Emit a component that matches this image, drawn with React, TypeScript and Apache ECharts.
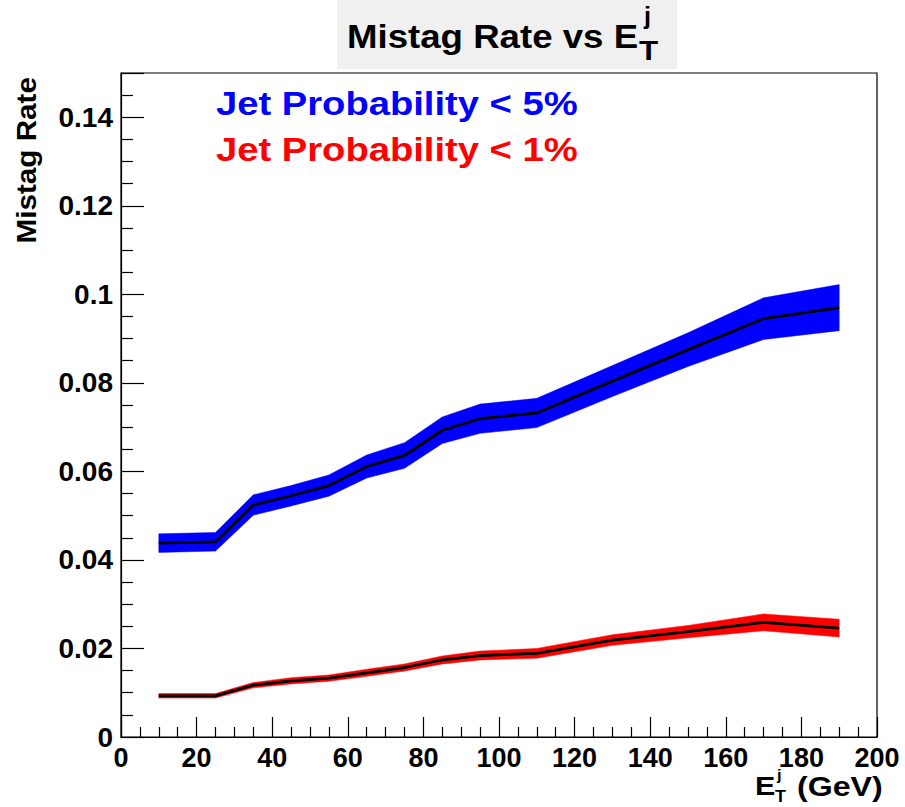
import React, { useEffect, useRef } from "react";
import * as echarts from "echarts";

// Jet E_T bin centres (GeV)
const etBins = [10, 25, 35, 45, 55, 65, 75, 85, 95, 110, 130, 150, 170, 190];

// Mistag rate for Jet Probability < 5% and its uncertainty
const rate5 = [0.0438, 0.0441, 0.0524, 0.0545, 0.0568, 0.0611, 0.0636, 0.0693, 0.0719, 0.0732, 0.0804, 0.0875, 0.0945, 0.097];
const err5 = [0.0021, 0.0021, 0.0023, 0.0023, 0.0024, 0.0026, 0.0029, 0.003, 0.0033, 0.0033, 0.0035, 0.0038, 0.0047, 0.0052];

// Mistag rate for Jet Probability < 1% and its uncertainty
const rate1 = [0.0093, 0.0093, 0.0117, 0.0127, 0.0133, 0.0145, 0.0157, 0.0174, 0.0184, 0.0189, 0.0219, 0.0238, 0.0259, 0.0246];
const err1 = [0.0005, 0.0005, 0.0006, 0.0007, 0.0007, 0.0008, 0.0008, 0.0009, 0.001, 0.0011, 0.0012, 0.0014, 0.0019, 0.002];

const xTicks = { min: 0, max: 200, step: 20 };
const yTicks = { min: 0, max: 0.15, step: 0.02 };

const FONT = "'Liberation Sans', Arial, Helvetica, sans-serif";

function bandRows(rate: number[], err: number[]) {
  return etBins.map((x, i) => [x, rate[i] - err[i], rate[i] + err[i]]);
}

// Draws the whole error band as a single polygon through the axis scales.
function bandSeries(name: string, rate: number[], err: number[], color: string) {
  const rows = bandRows(rate, err);
  return {
    type: "custom",
    name,
    data: rows,
    encode: { x: 0, y: [1, 2] },
    silent: true,
    renderItem: (params: any, api: any) => {
      if (params.dataIndex !== 0) return null;
      const upper: number[][] = [];
      const lower: number[][] = [];
      rows.forEach((r) => {
        upper.push(api.coord([r[0], r[2]]));
        lower.push(api.coord([r[0], r[1]]));
      });
      const points = upper.concat(lower.reverse());
      return {
        type: "polygon",
        shape: { points },
        style: { fill: color, stroke: color, lineWidth: 0.5 },
      };
    },
  };
}

function lineSeries(name: string, rate: number[]) {
  return {
    type: "line",
    name,
    data: etBins.map((x, i) => [x, rate[i]]),
    symbol: "none",
    silent: true,
    lineStyle: { color: "#000", width: 2.8 },
  };
}

function textEl(
  text: string,
  x: number,
  y: number,
  size: number,
  color: string,
  scaleX: number,
  align: string = "left",
  rotation = 0
) {
  return {
    type: "text",
    x,
    y,
    rotation,
    scaleX,
    scaleY: 1,
    silent: true,
    z: 10,
    style: {
      text,
      x: 0,
      y: 0,
      fill: color,
      font: `bold ${size}px ${FONT}`,
      align,
      textAlign: align,
      verticalAlign: "middle",
      textVerticalAlign: "middle",
    },
  };
}

export default function App() {
  const ref = useRef<HTMLDivElement>(null);

  useEffect(() => {
    document.body.style.margin = "0";
    if (!ref.current) return;
    const chart = echarts.init(ref.current, undefined, { renderer: "svg" });

    const isMajor = (v: number) => Math.abs(v / yTicks.step - Math.round(v / yTicks.step)) < 1e-6;

    chart.setOption({
      animation: false,
      backgroundColor: "#fff",
      grid: {
        left: 121,
        right: 28,
        top: 73,
        bottom: 70,
        show: true,
        borderColor: "#000",
        borderWidth: 1.2,
        backgroundColor: "transparent",
      },
      xAxis: {
        type: "value",
        min: xTicks.min,
        max: xTicks.max,
        interval: xTicks.step,
        axisLine: { show: true, onZero: false, lineStyle: { color: "#000", width: 1.2 } },
        axisTick: { show: true, inside: true, length: 20, lineStyle: { color: "#000", width: 1.2 } },
        minorTick: { show: true, splitNumber: 4, length: 10, lineStyle: { color: "#000", width: 1.2 } },
        splitLine: { show: false },
        minorSplitLine: { show: false },
        axisLabel: {
          margin: 7,
          color: "#000",
          fontSize: 27,
          fontWeight: "bold",
          fontFamily: FONT,
        },
      },
      yAxis: {
        type: "value",
        min: yTicks.min,
        max: yTicks.max,
        interval: yTicks.step,
        axisLine: { show: true, onZero: false, lineStyle: { color: "#000", width: 1.2 } },
        axisTick: { show: true, inside: true, length: 23, lineStyle: { color: "#000", width: 1.2 } },
        minorTick: { show: true, splitNumber: 4, length: 12, lineStyle: { color: "#000", width: 1.2 } },
        splitLine: { show: false },
        minorSplitLine: { show: false },
        axisLabel: {
          margin: 8,
          color: "#000",
          fontSize: 28,
          fontWeight: "bold",
          fontFamily: FONT,
          showMaxLabel: false,
          formatter: (v: number) => (isMajor(v) ? String(parseFloat(v.toFixed(3))) : ""),
        },
      },
      series: [
        bandSeries("band5", rate5, err5, "#0000ff"),
        lineSeries("rate5", rate5),
        bandSeries("band1", rate1, err1, "#ff0000"),
        lineSeries("rate1", rate1),
      ],
      graphic: [
        {
          type: "rect",
          silent: true,
          shape: { x: 337, y: 0, width: 340, height: 69 },
          style: { fill: "#f0f0f0" },
          z: 5,
        },
        textEl("Mistag Rate vs E", 347, 36, 33, "#000", 1.11),
        textEl("j", 644, 16, 23, "#000", 1.1),
        textEl("T", 639, 50, 28, "#000", 1.12),
        textEl("Jet Probability < 5%", 216, 104.5, 32.5, "#0000ff", 1.175),
        textEl("Jet Probability < 1%", 216, 150.5, 32.5, "#ff0000", 1.175),
        textEl("E", 755, 786, 26, "#000", 1.17),
        textEl("j", 777, 775, 15, "#000", 1.1),
        textEl("T", 775, 797, 16, "#000", 1.12),
        textEl("(GeV)", 797, 786, 27, "#000", 1.19),
        textEl("Mistag Rate", 26, 77, 28, "#000", 1.06, "right", Math.PI / 2),
      ],
    });

    return () => chart.dispose();
  }, []);

  return (
    <div
      ref={ref}
      style={{ position: "absolute", left: 0, top: 0, width: 905, height: 807, background: "#fff" }}
    />
  );
}
